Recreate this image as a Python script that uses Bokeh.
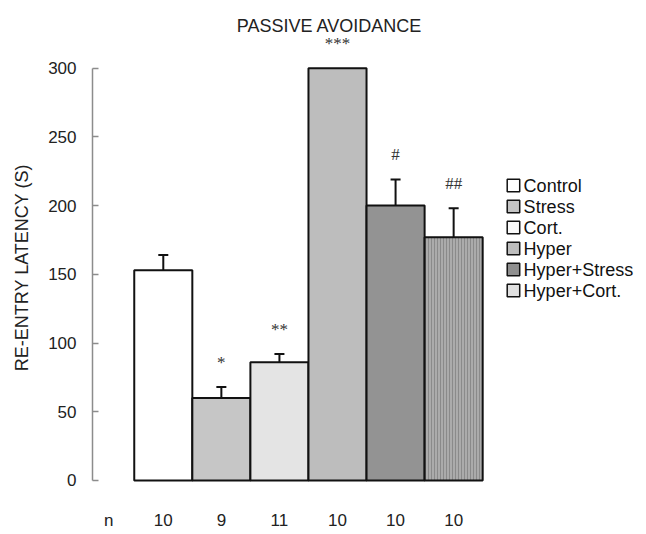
from bokeh.plotting import figure
from bokeh.models import ColumnDataSource, Range1d, FixedTicker, Whisker, TeeHead
from bokeh.core.properties import value
from bokeh.embed import file_html
from bokeh.resources import INLINE

# ---- data ----
groups = ["Control", "Stress", "Cort.", "Hyper", "Hyper+Stress", "Hyper+Cort."]
means = [153, 60, 86, 300, 200, 177]
errors = [11, 8, 6, 0, 19, 21]
n_values = ["10", "9", "11", "10", "10", "10"]
marks = ["", "*", "**", "***", "#", "##"]
y_ticks = [0, 50, 100, 150, 200, 250, 300]

# ---- styles ----
bar_colors = ["#ffffff", "#c6c6c6", "#e4e4e4", "#bdbdbd", "#939393", "#ababab"]
swatch_colors = ["#ffffff", "#c4c4c4", "#fafafa", "#bdbdbd", "#8f8f8f", "#e0e0e0"]
hatches = ["blank", "blank", "blank", "blank", "blank", "vertical_line"]
SANS = "Liberation Sans"
SERIF = "Liberation Serif"

xs = list(range(len(groups)))

p = figure(width=646, height=534, output_backend="svg", toolbar_location=None,
           x_range=Range1d(-1.219, 8.321), y_range=Range1d(-39.3, 349.2),
           x_axis_location=None, y_axis_location="left",
           min_border_left=92, min_border_right=0, min_border_top=0, min_border_bottom=0)
p.outline_line_color = None
p.grid.visible = False

# y axis
ax = p.yaxis[0]
ax.bounds = (0, 300)
ax.ticker = FixedTicker(ticks=y_ticks)
ax.minor_tick_line_color = None
ax.major_tick_in = 6
ax.major_tick_out = 0
ax.axis_line_color = "#8c8c8c"
ax.axis_line_width = 1.5
ax.major_tick_line_color = "#8c8c8c"
ax.major_tick_line_width = 1.5
ax.major_label_text_font = SANS
ax.major_label_text_font_size = "17px"
ax.major_label_text_color = "#222222"
ax.major_label_standoff = 16
ax.axis_label = "RE-ENTRY LATENCY (S)"
ax.axis_label_text_font = SANS
ax.axis_label_text_font_size = "18px"
ax.axis_label_text_font_style = "normal"
ax.axis_label_text_color = "#222222"
ax.axis_label_standoff = 13

# bars
src = ColumnDataSource(dict(x=xs, top=means, color=bar_colors, hatch=hatches))
p.vbar(x="x", top="top", bottom=0, width=1.0, source=src,
       fill_color="color", line_color="#111111", line_width=2,
       hatch_pattern="hatch", hatch_color="#8a8a8a", hatch_scale=3, hatch_weight=1)

# error bars (upper only)
ex = [x for x, e in zip(xs, errors) if e > 0]
elo = [m for m, e in zip(means, errors) if e > 0]
ehi = [m + e for m, e in zip(means, errors) if e > 0]
esrc = ColumnDataSource(dict(base=ex, lower=elo, upper=ehi))
p.add_layout(Whisker(source=esrc, base="base", lower="lower", upper="upper",
                     dimension="height", line_color="#111111", line_width=2,
                     lower_head=None,
                     upper_head=TeeHead(size=10, line_color="#111111", line_width=2)))

# significance marks
msrc = ColumnDataSource(dict(x=xs, y=[m + e for m, e in zip(means, errors)], t=marks))
p.text(x="x", y="y", text="t", source=msrc, y_offset=-25,
       text_align="center", text_baseline="alphabetic",
       text_font=value(SERIF), text_font_size="17px", text_color="#333333")

# n row
N_Y = -29.0
p.text(x=[-0.94], y=[N_Y], text=["n"], text_align="center", text_baseline="alphabetic",
       text_font=value(SANS), text_font_size="17px", text_color="#222222")
p.text(x=xs, y=[N_Y] * len(xs), text=n_values, text_align="center",
       text_baseline="alphabetic",
       text_font=value(SANS), text_font_size="17px", text_color="#222222")

# title
p.text(x=[2.862], y=[330.3], text=["PASSIVE AVOIDANCE"], text_align="center",
       text_baseline="alphabetic",
       text_font=value(SANS), text_font_size="18px", text_color="#222222")

# legend (drawn manually)
row_step = 15.28
sw_y = [214.6 - k * row_step for k in range(len(groups))]
p.scatter(x=[6.03] * len(groups), y=sw_y, marker="square", size=12.5,
          fill_color=swatch_colors, line_color="#111111", line_width=1.5)
p.text(x=[6.205] * len(groups), y=sw_y, text=groups, text_align="left",
       text_baseline="middle",
       text_font=value(SANS), text_font_size="18px", text_color="#111111")

open("out.html", "w").write(file_html(p, INLINE))
